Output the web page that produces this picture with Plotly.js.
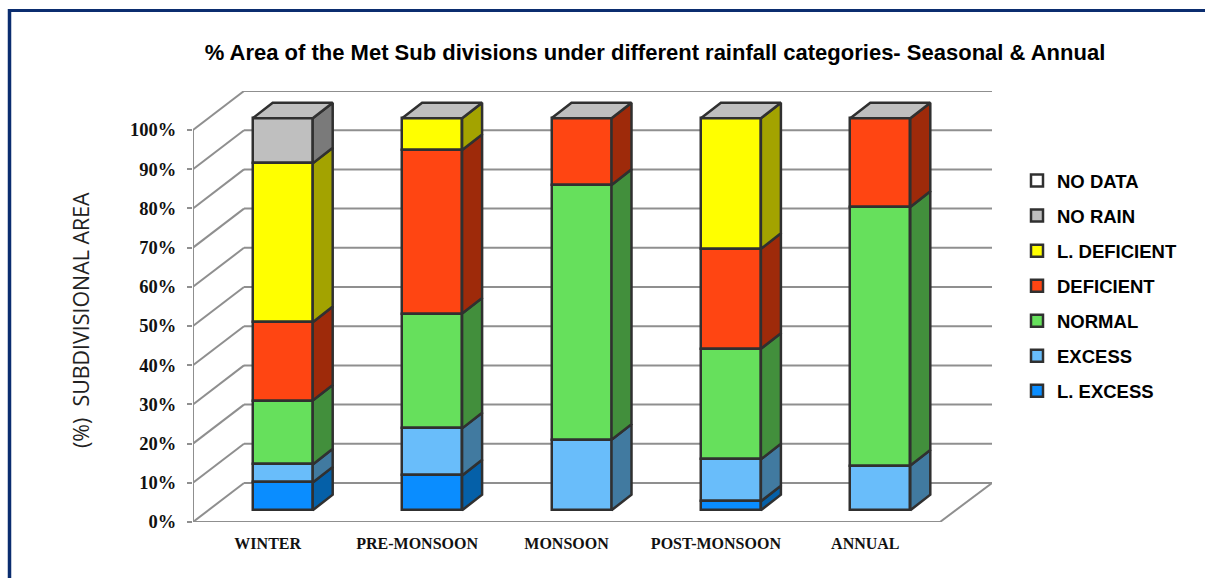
<!DOCTYPE html>
<html><head><meta charset="utf-8">
<script src="https://cdn.plot.ly/plotly-3.0.1.min.js"></script>
<style>html,body{margin:0;padding:0;background:#fff;overflow:hidden}#c{width:1205px;height:578px}</style>
</head><body><div id="c"></div>
<script>
const categories = ['WINTER','PRE-MONSOON','MONSOON','POST-MONSOON','ANNUAL'];
const lExcess    = [7.1, 8.9, 0,    2.3,  0];
const excess     = [4.6, 12.0, 18.0, 10.7, 11.4];
const normal     = [16.3, 29.3, 65.0, 28.2, 66.0];
const deficient  = [20.0, 41.7, 17.0, 25.5, 22.6];
const lDeficient = [40.5, 8.1, 0,    33.3, 0];
const noRain     = [11.5, 0,   0,    0,    0];
const noData     = [0,    0,   0,    0,    0];
const yTicks = [0,10,20,30,40,50,60,70,80,90,100];

const seriesNames = ['L. EXCESS','EXCESS','NORMAL','DEFICIENT','L. DEFICIENT','NO RAIN','NO DATA'];
const seriesVals = [lExcess,excess,normal,deficient,lDeficient,noRain,noData];
const faceColors = ['#0a8dff','#69bdfa','#66e05c','#ff4512','#ffff00','#bfbfbf','#ffffff'];
const sideColors = ['#0560a8','#417aa0','#428f3c','#9e2a0a','#a3a300','#7a7a7a','#a0a0a0'];
const edge = '#303030', grid = '#8f8f8f', edgeW = 2.5;

// pixel scale of the plot, used only to express the oblique projection in data units
const pxX = 149.4, pxY = 3.92;
const L = 193, R = 992, FLOOR = 522, BACK = 91;
const depthX = 51/pxX, depthY = 39/pxY;          // wall depth
const barDepthX = 20/pxX, barDepthY = 15.6/pxY;  // bar depth
const shiftX = 15/pxX, shiftY = 11.7/pxY;        // bar set-back from front plane
const barW = 60/pxX;
const xMin = -0.5, xFrontMax = 4.5, xMax = xMin + (R-L)/pxX, yMax = (FLOOR-BACK)/pxY;
const paperX = p => (p-L)/(R-L), paperY = p => (FLOOR-p)/(FLOOR-BACK);

const traces = [];
// front faces (added top series first so the legend reads NO DATA ... L. EXCESS)
for(let s=seriesNames.length-1;s>=0;s--){
  const name=seriesNames[s];
  const base = categories.map((_,i)=>{let b=shiftY;for(let k=0;k<s;k++)b+=seriesVals[k][i];return b;});
  traces.push({type:'bar',name:name,x:categories.map((_,i)=>i+shiftX),
    y:seriesVals[s].map(v=>v>0?v:null),base:base,width:barW,
    marker:{color:faceColors[s],line:{color:edge,width:edgeW}},hoverinfo:'name+y',showlegend:true,
    legendgroup:name});
}
// side faces
seriesNames.forEach((name,s)=>{
  categories.forEach((c,i)=>{
    const v = seriesVals[s][i]; if(!(v>0)) return;
    let b=shiftY;for(let k=0;k<s;k++)b+=seriesVals[k][i];
    const xr=i+shiftX+barW/2;
    traces.push({type:'scatter',mode:'lines',x:[xr,xr+barDepthX,xr+barDepthX,xr,xr],
      y:[b,b+barDepthY,b+v+barDepthY,b+v,b],fill:'toself',fillcolor:sideColors[s],
      line:{color:edge,width:edgeW},showlegend:false,hoverinfo:'skip',cliponaxis:false});
  });
});
// top faces
categories.forEach((c,i)=>{
  const t=shiftY+seriesVals.reduce((a,arr)=>a+arr[i],0);
  const xl=i+shiftX-barW/2,xr=i+shiftX+barW/2;
  traces.push({type:'scatter',mode:'lines',x:[xl,xr,xr+barDepthX,xl+barDepthX,xl],
    y:[t,t,t+barDepthY,t+barDepthY,t],fill:'toself',fillcolor:'#bfbfbf',
    line:{color:edge,width:edgeW},showlegend:false,hoverinfo:'skip',cliponaxis:false});
});

// wall, floor, frame
const shapes = [];
const ln=(x0,y0,x1,y1)=>shapes.push({type:'line',xref:'x',yref:'y',x0,y0,x1,y1,layer:'below',line:{color:grid,width:2}});
yTicks.forEach(v=>{ ln(xMin,v,xMin+depthX,v+depthY); ln(xMin+depthX,v+depthY,xMax,v+depthY); });
ln(xMin,0,xMin,100);
ln(xMin,0,xFrontMax,0);
ln(xFrontMax,0,xMax,depthY);
for(let k=0;k<=5;k++) shapes.push({type:'line',xref:'x',yref:'y',x0:xMin+k,x1:xMin+k,y0:0,y1:-1.2,layer:'below',line:{color:grid,width:2}});
const navy='#0b2d6f';
shapes.push({type:'line',xref:'paper',yref:'paper',x0:paperX(9.5),x1:paperX(9.5),y0:paperY(578),y1:paperY(9),line:{color:navy,width:3.5}});
shapes.push({type:'line',xref:'paper',yref:'paper',x0:paperX(8),x1:paperX(1205),y0:paperY(10.5),y1:paperY(10.5),line:{color:navy,width:3}});

const layout = {
  width:1205,height:578,paper_bgcolor:'#fff',plot_bgcolor:'rgba(0,0,0,0)',
  margin:{l:L,r:1205-R,t:BACK,b:578-FLOOR,pad:0,autoexpand:false},
  barmode:'overlay',bargap:0,
  title:{text:'% Area of the Met Sub divisions under different rainfall categories- Seasonal & Annual',
    font:{family:'"Liberation Sans",Arial,sans-serif',size:22,color:'#000',weight:'bold'},
    x:655/1205,xanchor:'center',xref:'container',y:1-52/578,yanchor:'middle',yref:'container'},
  xaxis:{range:[xMin,xMax],tickmode:'array',tickvals:categories.map((_,i)=>i),ticktext:categories,
    showgrid:false,zeroline:false,showline:false,ticks:'outside',ticklen:7,tickcolor:'rgba(0,0,0,0)',
    tickfont:{family:'"Liberation Serif",serif',size:16,color:'#111',weight:'bold'},tickangle:0},
  yaxis:{range:[0,yMax],tickmode:'array',tickvals:yTicks,ticktext:yTicks.map(v=>v+'%'),
    showgrid:false,zeroline:false,showline:false,ticks:'outside',ticklen:5,tickwidth:2,tickcolor:grid,
    ticklabelstandoff:7,
    tickfont:{family:'"Liberation Serif",serif',size:18.5,color:'#111',weight:'bold'}},
  legend:{x:paperX(1017),xanchor:'left',y:paperY(162),yanchor:'top',traceorder:'grouped',tracegroupgap:8,
    bgcolor:'rgba(0,0,0,0)',itemwidth:30,
    font:{family:'"Liberation Sans",Arial,sans-serif',size:18.5,color:'#000',weight:'bold'}},
  annotations:[{text:'(%)\u00a0\u00a0SUBDIVISIONAL AREA',xref:'paper',yref:'paper',x:paperX(80),y:paperY(320),
    xanchor:'center',yanchor:'middle',textangle:-90,showarrow:false,
    font:{family:'"Open Sans",sans-serif',size:21.4,color:'#222'}}],
  shapes:shapes,hovermode:'closest'
};
Plotly.newPlot('c',traces,layout,{displayModeBar:false,responsive:false});
</script></body></html>
